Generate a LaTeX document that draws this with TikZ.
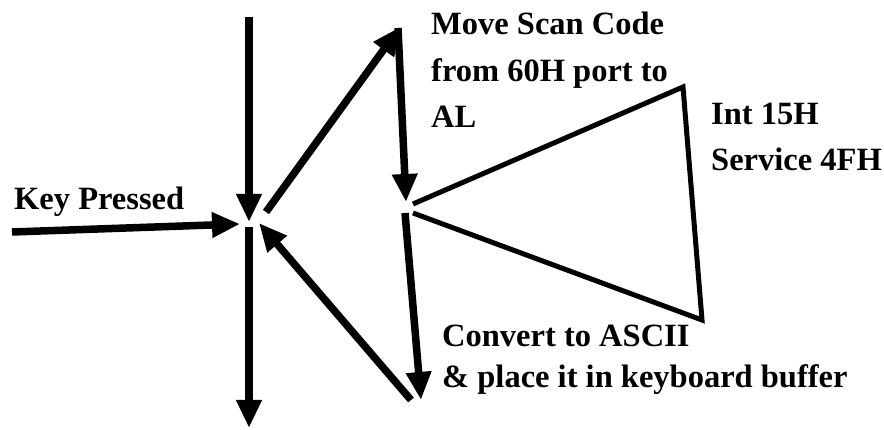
\documentclass[tikz,border=0pt]{standalone}
\usepackage{fontspec}
\setmainfont{Liberation Serif}
\usetikzlibrary{arrows.meta}
\begin{document}
\begin{tikzpicture}[x=1pt,y=-1pt,
  lbl/.style={anchor=base west,inner sep=0pt,font=\fontsize{32.5}{40}\selectfont\bfseries},
  arr/.style={line width=7.5pt,-{Triangle[length=28pt,width=24pt]}},
  tri/.style={line width=5pt,line join=miter}]
\useasboundingbox (0,0) rectangle (884,430);
% coordinates
\coordinate (topIn) at (249,17);
\coordinate (hubA) at (249,222);
\coordinate (keyIn) at (12,232);
\coordinate (hubL) at (240,224);
\coordinate (hubOut) at (266,212);
\coordinate (peak) at (400,27);
\coordinate (peakDown) at (398,28);
\coordinate (midIn) at (406,202);
\coordinate (midOut) at (405,213);
\coordinate (conv) at (421,400);
\coordinate (convBack) at (411,400);
\coordinate (hubR) at (259,223);
\coordinate (hubDown) at (249,227);
\coordinate (botOut) at (249,428);
\coordinate (triA) at (413,204);
\coordinate (triB) at (683,87);
\coordinate (triC) at (702,320);
\coordinate (triD) at (413,213);
% labels
\node[lbl] (l1) at (431,35) {Move Scan Code};
\node[lbl] (l2) at (431,82) {from 60H port to};
\node[lbl] (l3) at (431,128) {AL};
\node[lbl] (i1) at (711,125) {Int 15H};
\node[lbl] (i2) at (711,171) {Service 4FH};
\node[lbl] (k1) at (14,210) {Key Pressed};
\node[lbl] (c1) at (442,347) {Convert to ASCII};
\node[lbl] (c2) at (442,388) {\& place it in keyboard buffer};
% arrows
\draw[arr] (topIn) -- (hubA);
\draw[arr] (keyIn) -- (hubL);
\draw[arr] (hubOut) -- (peak);
\draw[arr] (peakDown) -- (midIn);
\draw[arr] (midOut) -- (conv);
\draw[arr] (convBack) -- (hubR);
\draw[arr] (hubDown) -- (botOut);
% triangle
\draw[tri] (triA) -- (triB) -- (triC) -- (triD);
\end{tikzpicture}
\end{document}
